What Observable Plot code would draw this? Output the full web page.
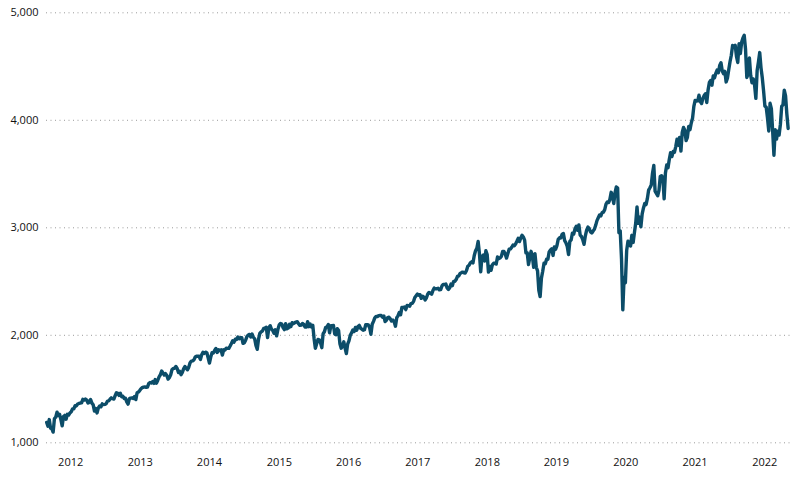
<!DOCTYPE html>
<html>
<head>
<meta charset="utf-8">
<script src="https://cdn.jsdelivr.net/npm/d3@7"></script>
<script src="https://cdn.jsdelivr.net/npm/@observablehq/plot@0.6"></script>
<style>
  html, body { margin: 0; padding: 0; background: #ffffff; }
  #chart svg { display: block; }
</style>
</head>
<body>
<div id="chart"></div>
<script>
// Weekly (Friday) closing levels; each array begins at the first Friday of its year
// (2011 begins on 2 September 2011).
const w2011 = [1190,1154,1216,1136,1131,1100,1225,1238,1285,1253,1264,1216,1158,1244,1255,1219,1265,1258];
const w2012 = [1278,1289,1315,1316, 1345,1343,1361,1366, 1370,1371,1404,1397,1408, 1398,1370,1379,1403,
  1369,1353,1295,1318, 1278,1325,1343,1335,1362, 1355,1357,1363,1386, 1391,1405,1418,1411,1407,
  1438,1466,1460,1441, 1461,1429,1433,1412, 1414,1380,1360,1409,1416, 1418,1413,1430,1402];
const w2013 = [1466,1472,1486,1503, 1513,1518,1520,1516, 1518,1551,1561,1556,1569, 1553,1588,1555,1582,
  1614,1633,1668,1650,1631, 1643,1626,1593,1606, 1632,1680,1692,1692, 1710,1691,1655,1664,1633,
  1655,1688,1710,1692, 1680,1704,1745,1760, 1762,1771,1798,1805,1806, 1805,1775,1818,1842];
const w2014 = [1832,1843,1838,1790,1742, 1797,1838,1836,1859, 1878,1841,1866,1857, 1865,1816,1865,1863,
  1881,1878,1878,1900,1924, 1950,1936,1963,1961, 1985,1968,1978,1978, 1925,1931,1955,1988,2003,
  2008,1985,2011,1982, 1968,1906,1870,1965,2018, 2032,2040,2064,2068, 2075,1980,2071,2089];
const w2015 = [2058,2045,2019,2051,1995, 2055,2097,2110,2104, 2071,2053,2108,2061, 2067,2102,2081,2117,
  2108,2116,2123,2126,2107, 2092,2094,2110,2102, 2076,2077,2127,2080,2104, 2078,2092,1971,1880,
  1921,1961,1958,1931, 1885,2015,2033,2075,2079, 2100,2023,2089,2090, 2092,2012,2006,2061];
const w2016 = [2044,1922,1880,1907,1940, 1880,1830,1918,1948, 2000,2022,2049,2035, 2073,2048,2081,2092,2065,
  2057,2047,2052,2099, 2099,2096,2071,2010, 2103,2130,2162,2175,2174, 2183,2184,2184,2169,
  2180,2128,2139,2165,2168, 2153,2133,2141,2126, 2085,2164,2182,2213, 2192,2260,2258,2264,2239];
const w2017 = [2277,2275,2271,2295, 2297,2316,2351,2367, 2383,2373,2378,2344,2363, 2355,2329,2349,2384,
  2399,2391,2382,2416, 2439,2432,2433,2438,2423, 2425,2459,2473,2472, 2477,2441,2426,2443,
  2477,2461,2500,2502,2519, 2549,2553,2575,2581, 2588,2582,2579,2603, 2642,2652,2675,2684,2674];
const w2018 = [2743,2786,2810,2873, 2762,2590,2732,2747, 2691,2786,2752,2588,2641, 2605,2656,2670,2670,
  2663,2728,2713,2721, 2735,2779,2780,2755,2718, 2760,2801,2802,2819, 2840,2833,2850,2875,2902,
  2872,2905,2930,2914, 2886,2767,2768,2659, 2723,2781,2736,2633,2760, 2633,2600,2417,2360];
const w2019 = [2532,2596,2671,2665, 2707,2708,2776,2793, 2804,2743,2822,2800,2834, 2893,2907,2905,2940,
  2946,2881,2860,2826,2752, 2873,2887,2950,2942, 2990,3014,2977,3026, 2932,2919,2889,2847,2926,
  2979,3007,2992,2962, 2952,2970,2986,3023, 3067,3093,3120,3110,3141, 3146,3169,3221,3240];
const w2020 = [3235,3265,3330,3295,3226, 3328,3380,3370,2954, 2972,2711,2237,2541, 2489,2790,2875,2837,
  2831,2930,2864,2955,3044, 3194,3041,3098,3009, 3130,3185,3225,3216,3271, 3351,3373,3397,3508,
  3580,3341,3319,3298, 3348,3477,3484,3465,3270, 3510,3585,3558,3638, 3699,3663,3709,3703];
const w2021 = [3756,3825,3768,3841,3714, 3887,3934,3907,3811, 3842,3943,3913,3975, 4020,4129,4185,4180,4181,
  4233,4174,4156,4204, 4230,4247,4166,4281, 4352,4370,4327,4412,4395, 4437,4468,4442,4509,
  4535,4459,4433,4455, 4357,4391,4471,4545,4605, 4697,4683,4698,4595, 4538,4712,4621,4726,4766];
const w2022 = [4790,4663,4398,4432, 4580,4419,4349,4385, 4329,4204,4463,4543, 4630,4488,4393,4272,4132,
  4123,4024,3901,4158, 4109,3901,3675,3912, 3825,3899,3863,3962,4130, 4145,4280,4228,4058, 3924];

const years = [2011,2012,2013,2014,2015,2016,2017,2018,2019,2020,2021,2022];
const yearSeries = [w2011,w2012,w2013,w2014,w2015,w2016,w2017,w2018,w2019,w2020,w2021,w2022];
const firstFriday2011 = "2011-09-02";

// Axis content
const yTicks = [1000, 2000, 3000, 4000, 5000];
const xDomain = ["2011-09-01", "2022-10-01"];
const yearLabelDates = ["2012-01-10","2013-01-21","2014-01-31","2015-02-14","2016-02-24","2017-03-05",
  "2018-03-17","2019-03-26","2020-04-05","2021-04-15","2022-04-28"];

const parse = d3.utcParse("%Y-%m-%d");
const data = [];
years.forEach((yr, k) => {
  const start = yr === 2011 ? parse(firstFriday2011) : d3.utcFriday.ceil(new Date(Date.UTC(yr, 0, 1)));
  yearSeries[k].forEach((v, i) => data.push({date: d3.utcDay.offset(start, 7 * i), value: v}));
});

const chart = Plot.plot({
  width: 800,
  height: 479,
  marginTop: 12.3,
  marginBottom: 36.7,
  marginLeft: 46,
  marginRight: 7,
  style: {fontFamily: "'Open Sans', sans-serif", fontSize: "11px", color: "#111", background: "#ffffff"},
  x: {type: "utc", domain: xDomain.map(parse)},
  y: {domain: [1000, 5000]},
  marks: [
    Plot.ruleY(yTicks, {stroke: "#9a9a9a", strokeWidth: 1, strokeDasharray: "1,3.5"}),
    Plot.axisY(yTicks, {tickSize: 0, tickPadding: 8, tickFormat: d3.format(","), label: null}),
    Plot.axisX(yearLabelDates.map(parse), {tickSize: 0, tickPadding: 15, tickFormat: d3.utcFormat("%Y"), label: null}),
    Plot.line(data, {x: "date", y: "value", stroke: "#0c4d69", strokeWidth: 3.4, strokeLinejoin: "round", strokeLinecap: "round"})
  ]
});
document.getElementById("chart").appendChild(chart);
</script>
</body>
</html>
